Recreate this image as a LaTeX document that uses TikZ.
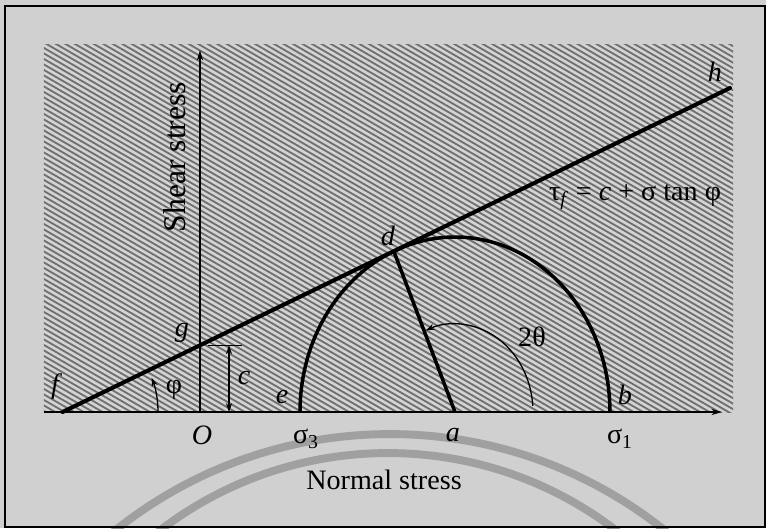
\documentclass[tikz,border=0pt]{standalone}
\usepackage{fontspec}
\setmainfont{Liberation Serif}
\usetikzlibrary{arrows.meta,calc}
\definecolor{pagegray}{RGB}{208,208,208}
\definecolor{hatchgray}{RGB}{212,212,212}
\definecolor{hatchline}{RGB}{112,112,112}
\definecolor{ghostgray}{RGB}{160,160,160}

\begin{document}
\begin{tikzpicture}[
  x=0.02cm, y=0.02cm,
  lbl/.style={font=\fontsize{16}{19}\selectfont, inner sep=1pt},
  ilbl/.style={font=\fontsize{16}{19}\selectfont\itshape, inner sep=1pt},
  axis/.style={line width=0.9pt, -{Stealth[length=6pt,width=3.5pt]}},
  envelope/.style={line width=2.3pt, line cap=round},
  mohr/.style={line width=2pt},
  dim/.style={line width=0.75pt},
  tip/.style={-{Stealth[length=5pt,width=3.5pt]}},
  ghost/.style={line width=4.5pt, ghostgray}
]
  \useasboundingbox (-200,-116) rectangle (566,412);

  % --- page and bleed-through ---
  \fill[pagegray] (-200,-116) rectangle (566,412);
  \begin{scope}
    \clip (-200,-116) rectangle (566,-4);
    \draw[ghost] (190,-462) circle[radius=8.8cm];
    \draw[ghost] (188,-416) circle[radius=7.5cm];
  \end{scope}

  % --- hatched field ---
  \fill[hatchgray] (-156,0) rectangle (533,367);
  \begin{scope}
    \clip (-156,0) rectangle (533,367);
    \foreach \k in {-95,-89.5,...,685}
      \draw[hatchline, line width=1.05pt] (-160,\k+92.8) -- (540,\k-313.2);
  \end{scope}
  \draw[line width=0.8pt] (-195,-115) rectangle (565,406);

  % --- key points ---
  \coordinate (O) at (0,0);
  \coordinate (f) at (-137.4,0);
  \coordinate (g) at (0,66.7);
  \coordinate (h) at (530,324);
  \coordinate (d) at (193.8,160.8);
  \coordinate (a) at (255,0);
  \coordinate (e) at (100,0);
  \coordinate (b) at (410,0);
  \coordinate (xstart) at (-156,0);
  \coordinate (xend) at (522,0);
  \coordinate (yend) at (0,362);

  % --- axes ---
  \draw[axis] (xstart) -- (xend);
  \draw[axis] (O) -- (yend);

  % --- envelope, circle, radius ---
  \draw[envelope] (f) -- (h);
  \draw[mohr] (e) arc[start angle=180, end angle=0, x radius=3.1cm, y radius=3.5cm];
  \draw[mohr] (a) -- (d);

  % --- angle 2theta ---
  \coordinate (tstart) at ($(a)+(4:1.56cm and 1.76cm)$);
  \draw[dim, tip] (tstart) arc[start angle=4, end angle=112, x radius=1.56cm, y radius=1.76cm];

  % --- angle phi ---
  \coordinate (pstart) at ($(f)+(95.4,0)$);
  \draw[dim, tip] (pstart) arc[start angle=0, end angle=21, radius=1.908cm];

  % --- cohesion c ---
  \coordinate (cl) at (8,66.7);
  \coordinate (cr) at (42,66.7);
  \coordinate (ctop) at (29,66.7);
  \coordinate (cbot) at (29,0);
  \draw[dim] (cl) -- (cr);
  \draw[dim, {Stealth[length=5pt,width=3.5pt]}-{Stealth[length=5pt,width=3.5pt]}] (cbot) -- (ctop);

  % --- labels ---
  \node[ilbl] (lf) at (-145,25) {f};
  \node[ilbl] (lg) at (-18,79) {g};
  \node[ilbl] (lO) at (2,-23) {O};
  \node[lbl]  (ls3) at (106,-27) {σ\textsubscript{3}};
  \node[ilbl] (la) at (253,-23) {a};
  \node[lbl]  (ls1) at (420,-27) {σ\textsubscript{1}};
  \node[ilbl] (le) at (82,15) {e};
  \node[ilbl] (lb) at (425,17) {b};
  \node[ilbl] (ld) at (188,176) {d};
  \node[ilbl] (lh) at (515,340) {h};
  \node[ilbl] (lc) at (44,34) {c};
  \node[lbl]  (lphi) at (-26,22) {φ};
  \node[lbl]  (ltheta) at (332,75) {2θ};
  \node[lbl]  (law) at (435,215) {τ\textsubscript{\textit{f}} = \textit{c} + σ tan φ};
  \node[lbl, font=\fontsize{18}{21}\selectfont, rotate=90] (lshear) at (-25,255) {Shear stress};
  \node[lbl]  (lnormal) at (184,-68) {Normal stress};
\end{tikzpicture}
\end{document}
